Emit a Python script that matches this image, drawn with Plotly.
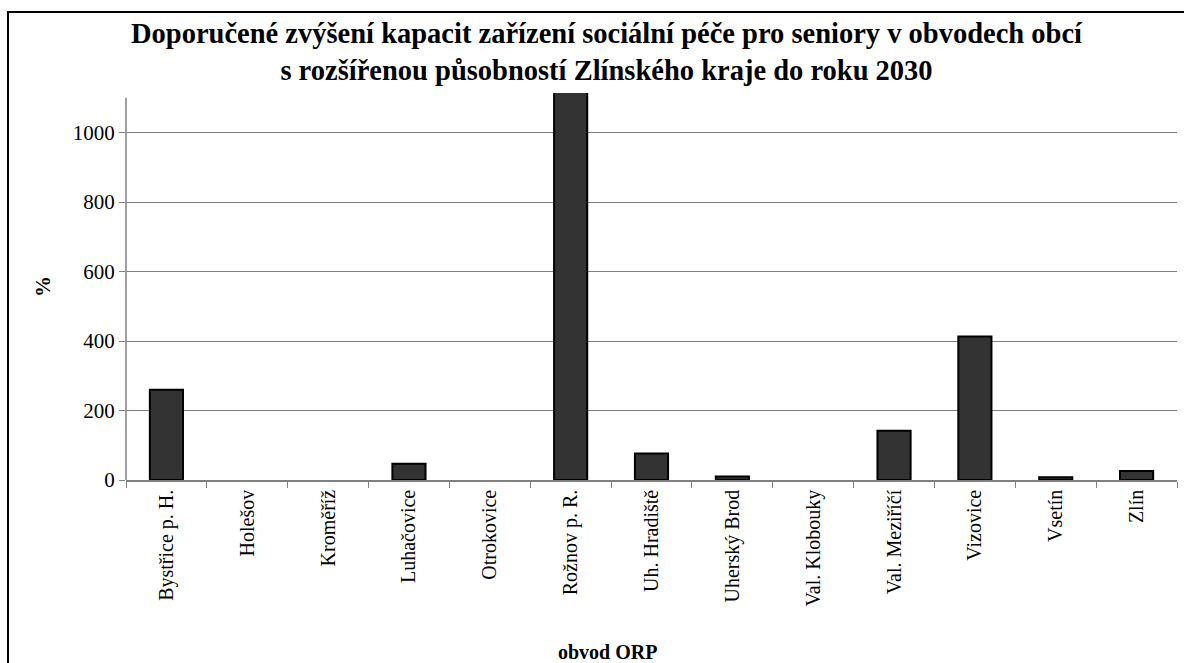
import plotly.graph_objects as go

categories = ["Bystřice p. H.", "Holešov", "Kroměříž", "Luhačovice", "Otrokovice",
              "Rožnov p. R.", "Uh. Hradiště", "Uherský Brod", "Val. Klobouky",
              "Val. Meziříčí", "Vizovice", "Vsetín", "Zlín"]
values = [260, 0, 0, 47, 0, 1200, 76, 10, 0, 142, 413, 8, 26]
y_ticks = [0, 200, 400, 600, 800, 1000]

title_text = ("Doporučené zvýšení kapacit zařízení sociální péče pro seniory v obvodech obcí"
              "<br>s rozšířenou působností Zlínského kraje do roku 2030")

FONT = "Liberation Serif"

W, H = 1184, 663
ml, mr, mt, mb = 126, 7, 93, 183
pw, ph = W - ml - mr, H - mt - mb
y_max = 1114
axis_top = 1100

def px_x(p):
    return (p - ml) / pw

def px_y(p):
    return (H - mb - p) / ph

fig = go.Figure()
fig.add_trace(go.Bar(
    x=categories, y=values,
    marker=dict(color="#333333",
                line=dict(color="#000000", width=[2 if v > 0 else 0 for v in values])),
    width=0.41,
))

fig.update_layout(
    width=W, height=H,
    margin=dict(l=ml, r=mr, t=mt, b=mb),
    paper_bgcolor="white", plot_bgcolor="white",
    showlegend=False,
    font=dict(family=FONT, color="#000000", size=20),
    xaxis=dict(
        tickangle=-90, tickfont=dict(family=FONT, size=20, color="#000000"),
        showgrid=False, showline=True, linecolor="#808080", linewidth=1.5,
        ticks="outside", tickson="boundaries", ticklen=6, tickcolor="#808080",
        range=[-0.5, len(categories) - 0.5],
    ),
    yaxis=dict(
        range=[0, y_max], tickvals=y_ticks, ticktext=[str(v) for v in y_ticks],
        tickfont=dict(family=FONT, size=21, color="#000000"),
        showgrid=True, gridcolor="#808080", gridwidth=1,
        showline=False,
        ticks="outside", ticklen=6, tickcolor="#808080", zeroline=False,
    ),
)

# y axis line (stops a little below the plot top, as in the reference)
fig.add_shape(type="line", xref="paper", yref="y", x0=0, x1=0, y0=0, y1=axis_top,
              line=dict(color="#808080", width=1.5), layer="above")

fig.add_annotation(text="<b>" + title_text + "</b>", xref="paper", yref="paper",
                   x=px_x(607), y=px_y(52), showarrow=False,
                   font=dict(family=FONT, size=28.5, color="#000000"),
                   xanchor="center", yanchor="middle", align="center")
fig.add_annotation(text="<b>%</b>", xref="paper", yref="paper",
                   x=px_x(43), y=px_y(287), showarrow=False, textangle=-90,
                   font=dict(family=FONT, size=21, color="#000000"),
                   xanchor="center", yanchor="middle")
fig.add_annotation(text="<b>obvod ORP</b>", xref="paper", yref="paper",
                   x=px_x(607), y=px_y(652), showarrow=False,
                   font=dict(family=FONT, size=20, color="#000000"),
                   xanchor="center", yanchor="middle")

# outer chart frame (top and left edges visible)
fig.add_shape(type="path", xref="paper", yref="paper",
              path=f"M {px_x(8)} {px_y(663)} L {px_x(8)} {px_y(12)} L {px_x(1184)} {px_y(12)}",
              line=dict(color="#000000", width=2))

fig.write_html("out.html", config={"displayModeBar": False},
               post_script="document.body.style.margin='0';")
